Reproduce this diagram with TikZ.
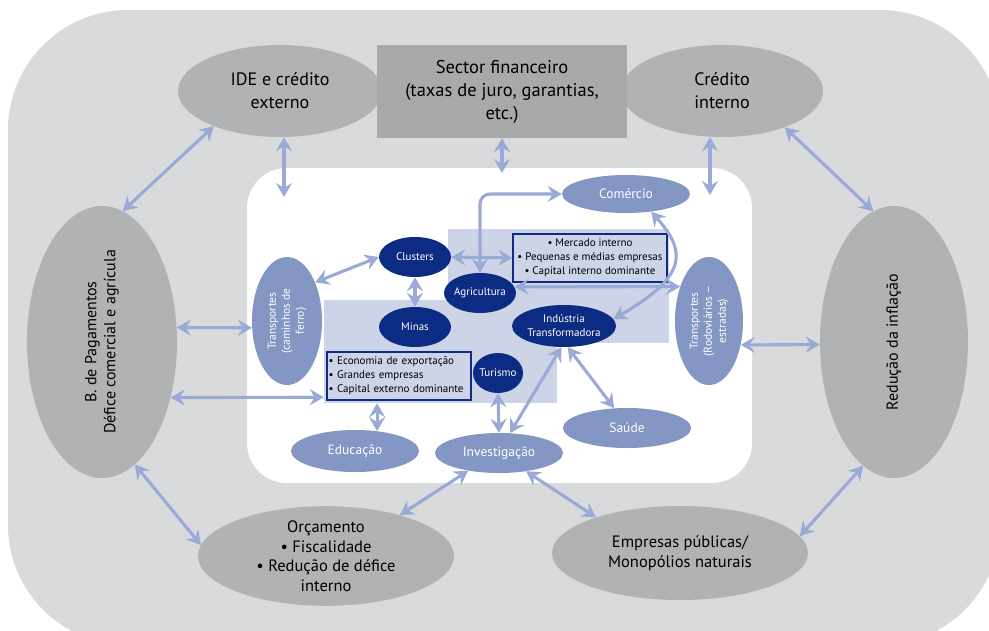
\documentclass[tikz,border=0pt]{standalone}
\usepackage{fontspec}
\setmainfont{PT Sans}
\usetikzlibrary{arrows.meta,shapes.geometric}

\definecolor{bggray}{RGB}{217,218,220}
\definecolor{ellgray}{RGB}{177,178,180}
\definecolor{boxgray}{RGB}{168,169,171}
\definecolor{midblue}{RGB}{132,151,196}
\definecolor{navy}{RGB}{12,44,132}
\definecolor{shade}{RGB}{205,212,231}
\definecolor{arrowblue}{RGB}{154,170,214}

\newcommand{\vtext}[1]{\rotatebox{90}{\begin{tabular}{@{}c@{}}#1\end{tabular}}}

\begin{document}
\begin{tikzpicture}[x=1pt, y=-1pt,
  grayell/.style={ellipse, fill=ellgray, inner sep=0pt, align=center, font=\fontsize{18}{23}\selectfont},
  blueell/.style={ellipse, fill=midblue, inner sep=-3pt, align=center, text=white, font=\fontsize{13.5}{15}\selectfont},
  navyell/.style={ellipse, fill=navy, inner sep=-5pt, align=center, text=white, font=\fontsize{11}{14}\selectfont},
  zone/.style={fill=shade, inner sep=0pt},
  listbox/.style={draw=navy, line width=1.2pt, fill=shade, inner sep=0pt, font=\fontsize{11}{14}\selectfont},
  dbl/.style={{Stealth[length=14pt,width=16pt,inset=5pt]}-{Stealth[length=14pt,width=16pt,inset=5pt]}, line width=3.1pt, draw=arrowblue}]
\useasboundingbox (0,0) rectangle (989,630);
\fill[white] (0,0) rectangle (989,630);
\fill[bggray, rounded corners=120pt] (8,10) rectangle (1000,645);
\node[fill=white, rounded corners=40pt, minimum width=505pt, minimum height=315pt, inner sep=0pt] (core) at (499.5,325.5) {};

% shaded zones and lists
\node[zone, minimum width=221pt, minimum height=114pt] (intzone) at (558.5,286) {};
\node[zone, minimum width=233pt, minimum height=103pt] (extzone) at (440.5,351.5) {};
\node[listbox, minimum width=154pt, minimum height=48pt, align=center] (merc) at (590,258) {\textbullet\ Mercado interno\\\textbullet\ Pequenas e médias empresas\\\textbullet\ Capital interno dominante};
\node[listbox, minimum width=144pt, minimum height=48pt, text width=141pt, align=left] (expo) at (399,376) {\textbullet\ Economia de exportação\\\textbullet\ Grandes empresas\\\textbullet\ Capital externo dominante};

% outer ring
\node[grayell, minimum width=204pt, minimum height=92pt] (ide) at (280,91) {IDE e crédito\\externo};
\node[grayell, minimum width=202pt, minimum height=92pt] (credit) at (722,91) {Crédito\\interno};
\node[fill=boxgray, minimum width=250pt, minimum height=93pt, inner sep=0pt, align=center, font=\fontsize{18.5}{23}\selectfont] (sect) at (502,91.5) {Sector financeiro\\(taxas de juro, garantias,\\etc.)};
\node[grayell, minimum width=150pt, minimum height=272pt, font=\fontsize{16}{19}\selectfont] (bop) at (102,342) {\vtext{B. de Pagamentos\\Défice comercial e agrícula}};
\node[grayell, minimum width=148pt, minimum height=272pt, font=\fontsize{16}{19}\selectfont] (infl) at (894,342) {\vtext{Redução da inflação}};
\node[grayell, minimum width=256pt, minimum height=96pt, font=\fontsize{16.5}{19.5}\selectfont] (budget) at (326,556) {Orçamento\\\textbullet\ Fiscalidade\\\textbullet\ Redução de défice\\interno};
\node[grayell, minimum width=256pt, minimum height=94pt, font=\fontsize{16.5}{19.5}\selectfont] (soe) at (680,553) {Empresas públicas/\\Monopólios naturais};

% inner sectors
\node[blueell, minimum width=128pt, minimum height=38pt] (comm) at (626,194) {Comércio};
\node[blueell, minimum width=128pt, minimum height=40pt] (saude) at (627,428) {Saúde};
\node[blueell, minimum width=128pt, minimum height=42pt] (edu) at (355,451) {Educação};
\node[blueell, minimum width=128pt, minimum height=40pt] (inv) at (499,453) {Investigação};
\node[blueell, minimum width=70pt, minimum height=128pt, font=\fontsize{11.5}{14}\selectfont] (rail) at (287,321) {\vtext{Transportes\\(caminhos de\\ferro)}};
\node[blueell, minimum width=68pt, minimum height=128pt, font=\fontsize{11.5}{14}\selectfont] (road) at (709,321) {\vtext{Transportes\\(Rodoviários –\\estradas)}};
\node[navyell, minimum width=72pt, minimum height=40pt] (clus) at (415,257) {Clusters};
\node[navyell, minimum width=72pt, minimum height=40pt] (agri) at (480,293) {Agricultura};
\node[navyell, minimum width=72pt, minimum height=40pt] (minas) at (415,327) {Minas};
\node[navyell, minimum width=104pt, minimum height=42pt] (indu) at (564,326) {Indústria\\Transformadora};
\node[navyell, minimum width=50pt, minimum height=40pt] (tour) at (498,373) {Turismo};

% links
\coordinate (ideIn) at (284,197);
\coordinate (secIn) at (502,173);
\coordinate (credIn) at (710,195);
\draw[dbl] (bop.81) -- (ide.208);
\draw[dbl] (ide.south -| ideIn) -- (ideIn);
\draw[dbl] (sect.south -| secIn) -- (secIn);
\draw[dbl] (credit.south -| credIn) -- (credIn);
\draw[dbl] (credit.-30) -- (infl.99);
\draw[dbl] (bop.11) -- (rail.191);
\draw[dbl] (bop.-39) -- ([yshift=6pt]extzone.south west);
\draw[dbl] (bop.-75) -- (budget.175);
\draw[dbl] (inv.210) -- (budget.29);
\draw[dbl] (inv.-34) -- (soe.157);
\draw[dbl] (soe.8) -- (infl.-104);
\draw[dbl] (road.-37) -- (infl.182);
\draw[dbl] (rail.54) -- (clus.west);
\draw[dbl] (clus.south) -- (minas.north);
\draw[dbl, rounded corners=10pt] (agri.north) |- (comm.west);
\draw[dbl] (clus.east) -- (merc.west);
\draw[dbl] (agri.10) -- (road.130);
\draw[dbl] (comm.-35) .. controls (685,250) and (690,275) .. (indu.8);
\draw[dbl] (indu.-97) -- (inv.61);
\draw[dbl] (indu.-80) -- (saude.123);
\draw[dbl] (tour.south) -- (inv.north);
\draw[dbl] (edu.42) -- (edu.42 |- extzone.south);
\end{tikzpicture}
\end{document}
